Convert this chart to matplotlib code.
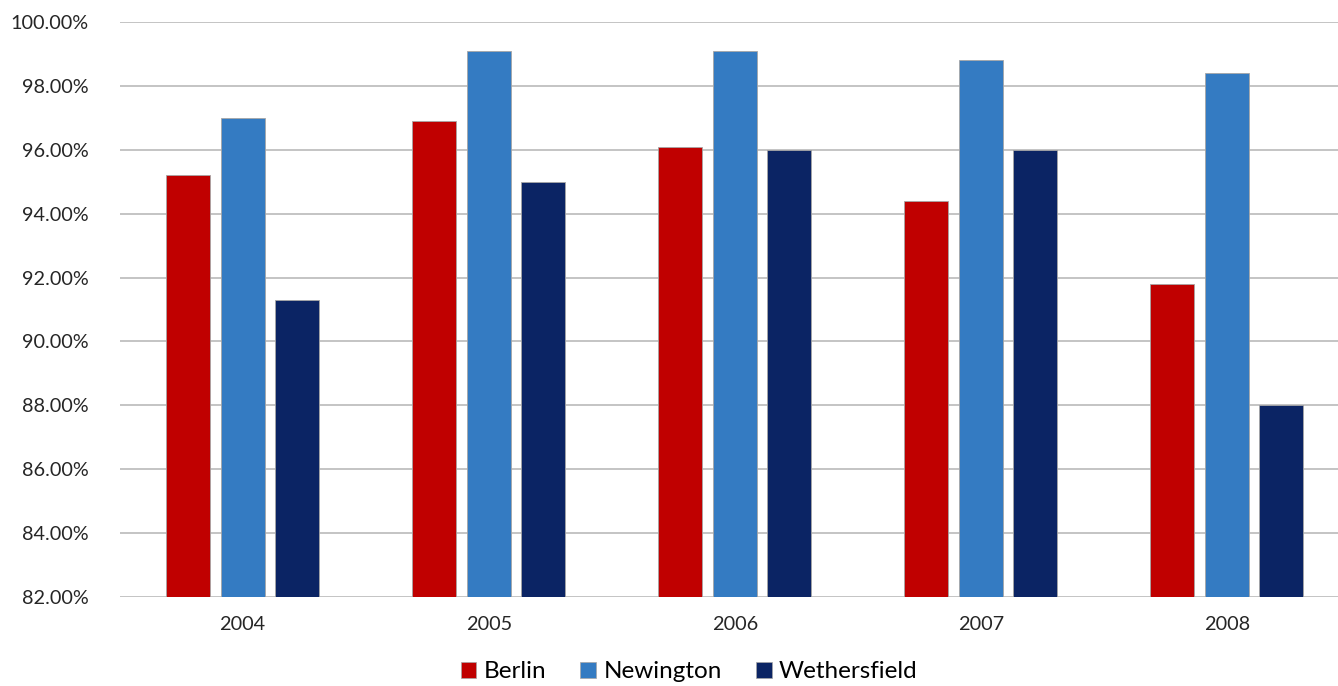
import matplotlib.pyplot as plt
import numpy as np
from matplotlib.patches import Patch

plt.rcParams['font.family'] = ['Lato', 'DejaVu Sans']

years = ['2004', '2005', '2006', '2007', '2008']
berlin = [95.2, 96.9, 96.1, 94.4, 91.8]
newington = [97.0, 99.1, 99.1, 98.8, 98.4]
wethersfield = [91.3, 95.0, 96.0, 96.0, 88.0]

series = [('Berlin', berlin, '#C00000'),
          ('Newington', newington, '#347BC2'),
          ('Wethersfield', wethersfield, '#0B2464')]

fig = plt.figure(figsize=(13.38, 6.86), dpi=100)
ax = fig.add_axes([119.5/1338, 89/686, 1230.5/1338, 575/686])

x = np.arange(len(years))
w = 0.179
step = 0.2215
for i, (name, vals, col) in enumerate(series):
	ax.bar(x + (i - 1)*step, np.array(vals) - 82, bottom=82, width=w,
	       color=col, edgecolor='#A6A6A6', linewidth=0.6, zorder=3, label=name)

ax.set_xlim(-0.5, len(years) - 0.5)
ax.set_ylim(82, 100)
ax.set_yticks(np.arange(82, 100.1, 2))
ax.set_yticklabels(['%.2f%%' % v for v in np.arange(82, 100.1, 2)])
ax.set_xticks(x)
ax.set_xticklabels(years)
ax.grid(axis='y', color='#BFBFBF', linewidth=1.3, zorder=0)
for s in ax.spines.values():
	s.set_visible(False)
ax.tick_params(axis='both', length=0, labelsize=14.3, colors='#262626')
ax.tick_params(axis='y', pad=22)
ax.tick_params(axis='x', pad=14)

handles = [Patch(facecolor=c, edgecolor='#A6A6A6', linewidth=0.5) for _, _, c in series]
fig.legend(handles, [n for n, _, _ in series], loc='center', bbox_to_anchor=(689/1338, 1 - 672/686),
           ncol=3, frameon=False, fontsize=17.5, handlelength=0.65, handleheight=0.65,
           handletextpad=0.3, columnspacing=1.4, borderpad=0)

fig.savefig('out.png', dpi=100)
